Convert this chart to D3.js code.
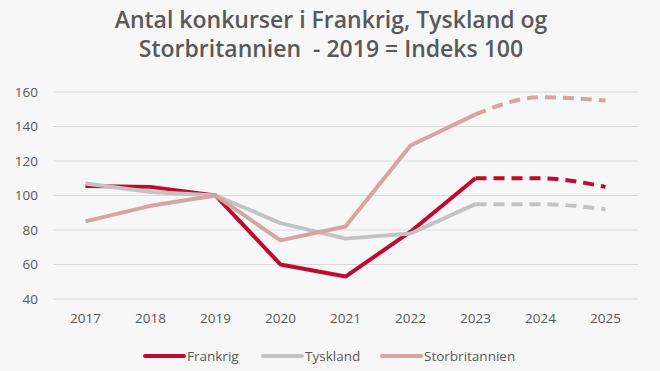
<!DOCTYPE html>
<meta charset="utf-8">
<style>
body { margin: 0; background: #f7f7f7; }
text { font-family: "Open Sans", sans-serif; fill: #595959; }
.grid line { stroke: #d9d9d9; stroke-width: 1px; }
.series { fill: none; stroke-linejoin: round; }
</style>
<body>
<script src="https://d3js.org/d3.v7.min.js"></script>
<script>

var width = 660,
    height = 371;

var years = ["2017", "2018", "2019", "2020", "2021", "2022", "2023", "2024", "2025"];
var frankrig = [105.5, 105, 100, 60, 53, 79, 110, 110, 105];
var tyskland = [107, 102, 100, 84, 75, 78, 95, 95, 92];
var storbritannien = [85, 94, 100, 74, 82, 129, 147, 157, 155];
var yTicks = [40, 60, 80, 100, 120, 140, 160];
var forecastFrom = "2023";

var series = [
  {name: "Frankrig", values: frankrig, color: "#c00a30", width: 4},
  {name: "Tyskland", values: tyskland, color: "#c3c3c3", width: 4},
  {name: "Storbritannien", values: storbritannien, color: "#d9a3a3", width: 4}
];

var x = d3.scalePoint()
    .domain(years)
    .range([53, 638])
    .padding(0.5);

var y = d3.scaleLinear()
    .domain([40, 160])
    .range([299, 92]);

var svg = d3.select("body").append("svg")
    .attr("width", width)
    .attr("height", height);

// title
var title = svg.append("text")
    .attr("text-anchor", "middle")
    .attr("font-size", 23)
    .attr("font-weight", 600)
    .style("white-space", "pre")
    .style("fill", "#595959");
title.append("tspan").attr("x", 331).attr("y", 28).text("Antal konkurser i Frankrig, Tyskland og");
title.append("tspan").attr("x", 331).attr("y", 57).text("Storbritannien  - 2019 = Indeks 100");

// gridlines
svg.append("g")
    .attr("class", "grid")
    .selectAll("line")
    .data(yTicks)
  .enter().append("line")
    .attr("x1", 53)
    .attr("x2", 638)
    .attr("y1", function(d) { return y(d); })
    .attr("y2", function(d) { return y(d); });

// y labels
svg.append("g")
    .selectAll("text")
    .data(yTicks)
  .enter().append("text")
    .attr("x", 38)
    .attr("y", function(d) { return y(d); })
    .attr("dy", "0.35em")
    .attr("text-anchor", "end")
    .attr("font-size", 13.5)
    .text(function(d) { return d; });

// x labels
svg.append("g")
    .selectAll("text")
    .data(years)
  .enter().append("text")
    .attr("x", function(d) { return x(d); })
    .attr("y", 323)
    .attr("text-anchor", "middle")
    .attr("font-size", 13.5)
    .text(function(d) { return d; });

var line = d3.line()
    .x(function(d) { return x(d.year); })
    .y(function(d) { return y(d.value); });

var split = years.indexOf(forecastFrom);

series.forEach(function(s) {
  var pts = years.map(function(yr, i) { return {year: yr, value: s.values[i]}; });
  svg.append("path")
      .datum(pts.slice(0, split + 1))
      .attr("class", "series")
      .attr("stroke", s.color)
      .attr("stroke-width", s.width)
      .attr("d", line);
  svg.append("path")
      .datum(pts.slice(split))
      .attr("class", "series")
      .attr("stroke", s.color)
      .attr("stroke-width", s.width)
      .attr("stroke-dasharray", "11,7")
      .attr("d", line.curve(d3.curveMonotoneX));
  line.curve(d3.curveLinear);
});

// legend
var legendX = [145, 263, 382];
var legend = svg.append("g")
    .selectAll("g")
    .data(series)
  .enter().append("g")
    .attr("transform", function(d, i) { return "translate(" + legendX[i] + ",356)"; });

legend.append("line")
    .attr("x1", 0)
    .attr("x2", 39)
    .attr("stroke", function(d) { return d.color; })
    .attr("stroke-width", 4)
    .attr("stroke-linecap", "round");

legend.append("text")
    .attr("x", 42)
    .attr("dy", "0.35em")
    .attr("font-size", 13.5)
    .text(function(d) { return d.name; });

</script>
